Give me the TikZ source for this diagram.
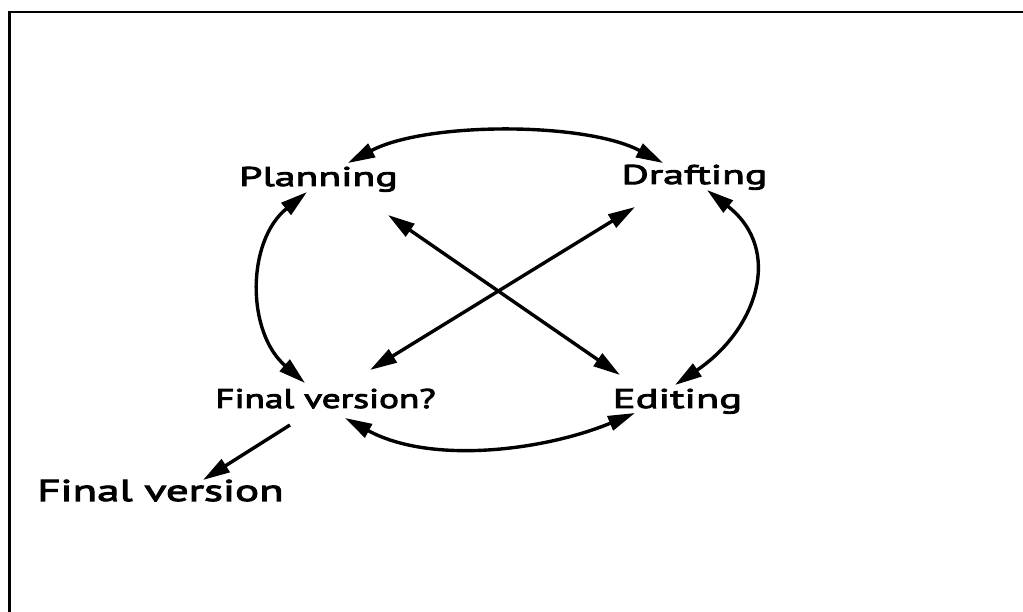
\documentclass[tikz,border=0pt]{standalone}
\usepackage{fontspec}
\setmainfont[FakeBold=3.5]{PT Sans}
\newfontfamily\fpl[FakeStretch=1.55,FakeBold=3.5]{PT Sans}
\newfontfamily\fed[FakeStretch=1.58,FakeBold=3.5]{PT Sans}
\newfontfamily\ffq[FakeStretch=1.38,FakeBold=3.5]{PT Sans}
\newfontfamily\ffv[FakeStretch=1.50,FakeBold=3.5]{PT Sans}
\usetikzlibrary{arrows.meta}
\begin{document}
\begin{tikzpicture}[x=1pt,y=1pt,
  lbl/.style={inner sep=0pt, anchor=base},
  link/.style={line width=3.4pt, {Triangle[length=27pt,width=15pt]}-{Triangle[length=27pt,width=15pt]}},
  onelink/.style={line width=3.4pt, -{Triangle[length=27pt,width=15pt]}}]
\useasboundingbox (0,0) rectangle (1023,612);
\fill[white] (0,0) rectangle (1023,612);
\draw[line width=2.5pt] (9.5,0) |- (1023,600);
\node[lbl, font=\fpl\fontsize{27}{27}\selectfont] (P) at (318.5,426) {Planning};
\node[lbl, font=\fpl\fontsize{27}{27}\selectfont] (D) at (694.5,428) {Drafting};
\node[lbl, font=\ffq\fontsize{27}{27}\selectfont] (F) at (325.5,204) {Final version?};
\node[lbl, font=\fed\fontsize{27}{27}\selectfont] (E) at (677.5,204) {Editing};
\node[lbl, font=\ffv\fontsize{30}{30}\selectfont] (FV) at (160.5,111) {Final version};
% ellipse arcs
\draw[link] ([shift={(29.5,23)}]P.base) .. controls +(28:88) and +(152:88) .. ([shift={(-31.5,21)}]D.base);
\draw[link] ([shift={(-11.5,-6)}]P.base) .. controls +(219:78) and +(139:78) .. ([shift={(-20.5,25)}]F.base);
\draw[link] ([shift={(12.5,-6)}]D.base) .. controls +(-38:98) and +(34:98) .. ([shift={(-2.5,23)}]E.base);
\draw[link] ([shift={(19.5,-10)}]F.base) .. controls +(-28.6:98) and +(202.5:98) .. ([shift={(-42.5,-5)}]E.base);
% diagonals
\draw[link] ([shift={(69.5,-29)}]P.base) -- ([shift={(-57.5,33)}]E.base);
\draw[link] ([shift={(-59.5,-23)}]D.base) -- ([shift={(44.5,38)}]F.base);
% final
\draw[onelink] ([shift={(-35.5,-17)}]F.base) -- ([shift={(42.5,21)}]FV.base);
\end{tikzpicture}
\end{document}
